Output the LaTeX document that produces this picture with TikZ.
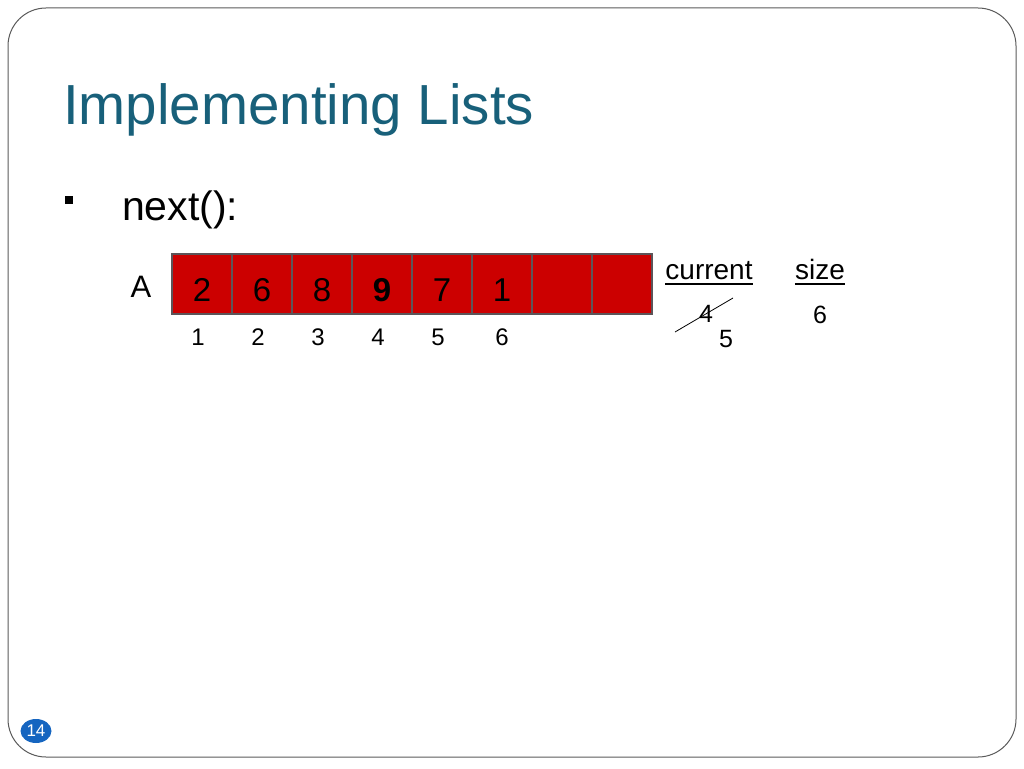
\documentclass[tikz,border=0pt]{standalone}
\usepackage{fontspec}
\setmainfont{Liberation Sans}
\usetikzlibrary{shapes.geometric}
\usetikzlibrary{calc}

\definecolor{titleteal}{RGB}{24,96,122}
\definecolor{cellred}{RGB}{204,0,0}
\definecolor{cellgray}{RGB}{92,84,88}
\definecolor{pageblue}{RGB}{21,101,192}
\definecolor{framegray}{RGB}{90,90,90}

\tikzset{
    cell/.style = {draw=cellgray, line width=1.3pt, fill=cellred, minimum width=60pt,
                   minimum height=60pt, inner sep=0pt, text height=35pt, text depth=0pt,
                   font=\fontsize{33}{33}\selectfont},
    idx/.style  = {anchor=base, font=\fontsize{24}{24}\selectfont},
    var/.style  = {anchor=base, font=\fontsize{28}{28}\selectfont},
    val/.style  = {anchor=base, font=\fontsize{25}{25}\selectfont}
}

\begin{document}
\begin{tikzpicture}[x=1pt, y=-1pt]
            \useasboundingbox (0,0) rectangle (1024,768);
            \draw[framegray, line width=1pt, rounded corners=38pt] (8,8) rectangle (1016,757);

            \node[anchor=base west, text=titleteal, inner sep=0pt, font=\fontsize{56.5}{56.5}\selectfont] (title) at (63,124) {Implementing Lists};
            \node[fill=black, minimum size=8pt, inner sep=0pt] (bullet) at (69,200) {};
            \node[anchor=base west, inner sep=0pt, font=\fontsize{41}{41}\selectfont] (next) at (122,220) {next():};

            \node[anchor=base, inner sep=0pt, font=\fontsize{31}{31}\selectfont] (arr) at (141,297) {A};
            \node[cell] (c1) at (202,284) {2};
            \node[cell] (c2) at (262,284) {6};
            \node[cell] (c3) at (322,284) {8};
            \node[cell] (c4) at (382,284) {\bfseries 9};
            \node[cell] (c5) at (442,284) {7};
            \node[cell] (c6) at (502,284) {1};
            \node[cell] (c7) at (562,284) {};
            \node[cell] (c8) at (622,284) {};

            \node[idx] (i1) at (198,345) {1};
            \node[idx] (i2) at (258,345) {2};
            \node[idx] (i3) at (318,345) {3};
            \node[idx] (i4) at (378,345) {4};
            \node[idx] (i5) at (438,345) {5};
            \node[idx] (i6) at (502,345) {6};

            \node[var, inner sep=0pt] (cur) at (709,279) {current};
            \node[var, inner sep=0pt] (size) at (820,279) {size};
            \draw[line width=1.6pt] ([yshift=-5pt]cur.base west) -- ([yshift=-5pt]cur.base east);
            \draw[line width=1.6pt] ([yshift=-5pt]size.base west) -- ([yshift=-5pt]size.base east);

            \node[val] (oldcur) at (706,322) {4};
            \node[val] (newcur) at (726,347) {5};
            \node[val] (sizeval) at (820,323) {6};
            \coordinate (strikeA) at (675,332);
            \coordinate (strikeB) at (733,298);
            \draw[line width=0.8pt] (strikeA) -- (strikeB);

            \node[ellipse, fill=pageblue, minimum width=31pt, minimum height=24pt, inner sep=0pt,
                  text=white, font=\fontsize{17}{17}\selectfont] (page) at (36,731) {14};
\end{tikzpicture}
\end{document}
